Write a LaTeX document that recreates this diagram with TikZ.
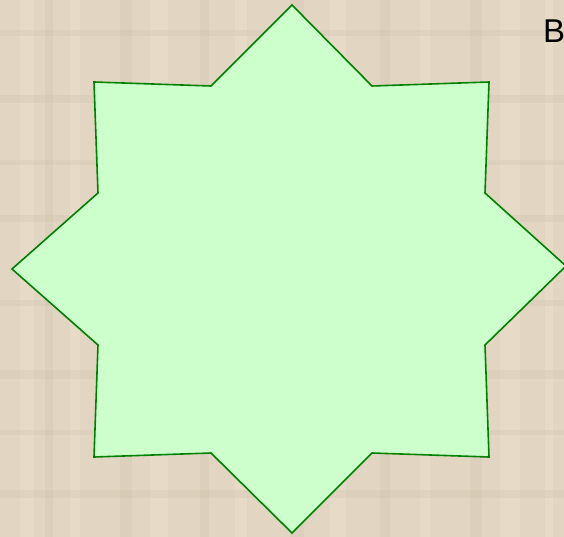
\documentclass[tikz,border=0pt]{standalone}
\usepackage{fontspec}
\setmainfont{Liberation Sans}
\usepackage{xcolor}
\definecolor{paper}{HTML}{E2D6C2}
\definecolor{paperlight}{HTML}{EEE3D0}
\definecolor{paperdark}{HTML}{D2C4AE}
\definecolor{starfill}{HTML}{CCFFCC}
\definecolor{starline}{HTML}{008000}

\begin{document}
\begin{tikzpicture}[
  x=1pt, y=-1pt,
  star/.style={draw=starline, fill=starfill, line width=1.6pt, line join=miter},
  lbl/.style={font=\fontsize{33}{36}\selectfont, text=black, inner sep=0pt},
  streak/.style={fill=paperlight, opacity=0.45},
  shade/.style={fill=paperdark, opacity=0.35},
]

% --- Background texture ---
\fill[paper] (0,0) rectangle (564,537);
\useasboundingbox (0,0) rectangle (564,537);
\foreach \x/\w in {20/14, 70/10, 150/18, 235/12, 330/16, 420/10, 500/20, 545/8}
  \fill[streak] (\x,0) rectangle ++(\w,537);
\foreach \x/\w in {45/8, 120/12, 200/9, 290/14, 380/10, 470/12}
  \fill[shade] (\x,0) rectangle ++(\w,537);
\foreach \y/\h in {30/6, 95/8, 160/5, 215/7, 300/6, 370/9, 430/5, 490/8}
  \fill[shade] (0,\y) rectangle ++(564,\h);

% --- Eight-pointed star ---
\draw[star] (292,5) -- (372,86) -- (489,82) -- (485,193) -- (566,266)
  -- (485,345) -- (489,457) -- (372,453) -- (292,533) -- (211,453)
  -- (94,457) -- (98,345) -- (12,269) -- (98,193) -- (94,82)
  -- (211,86) -- cycle;

% --- Label (runs past the right edge) ---
\node[lbl, anchor=base west] (tag) at (543,43) {B};
\end{tikzpicture}
\end{document}
